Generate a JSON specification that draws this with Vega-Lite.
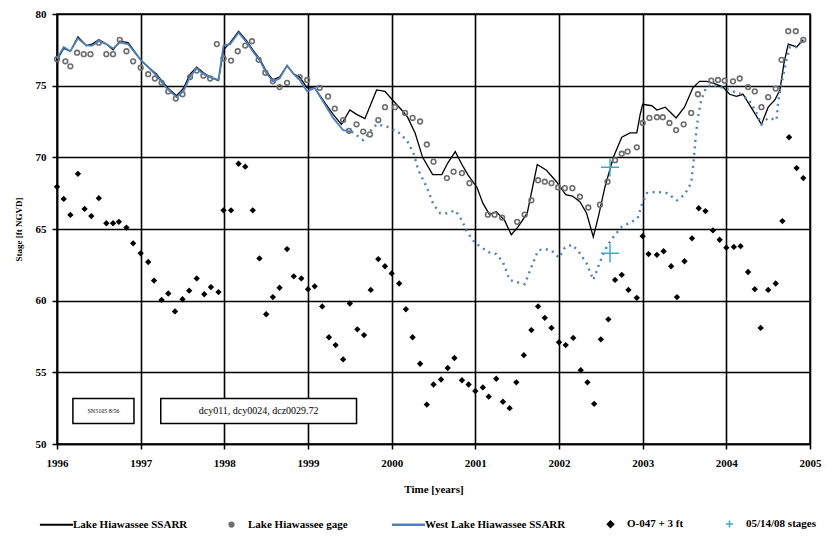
{
  "$schema": "https://vega.github.io/schema/vega-lite/v6.json",
  "width": 753,
  "height": 430,
  "autosize": "none",
  "padding": {"left": 57, "top": 14, "right": 17, "bottom": 98},
  "background": "white",
  "config": {
    "view": {"stroke": "black", "strokeWidth": 1.5},
    "font": "Liberation Serif",
    "legend": {"layout": {"bottom": {"anchor": "middle"}}}
  },
  "datasets": {
    "boxes": [
      {"t": 1996.19, "t2": 1996.92, "v": 53.18, "v2": 51.43, "label": "SN5105 8/56", "tc": 1996.555, "vc": 52.3, "fs": "small"},
      {"t": 1997.24, "t2": 1999.58, "v": 53.18, "v2": 51.43, "label": "dcy011, dcy0024, dcz0029.72", "tc": 1998.41, "vc": 52.3, "fs": "big"}
    ]
  },
  "data": {"values": [
    {"s":"Lake Hiawassee SSARR","t":1996.0,"v":76.8},{"s":"Lake Hiawassee SSARR","t":1996.08,"v":77.6},{"s":"Lake Hiawassee SSARR","t":1996.16,"v":77.4},{"s":"Lake Hiawassee SSARR","t":1996.25,"v":78.4},{"s":"Lake Hiawassee SSARR","t":1996.35,"v":77.8},{"s":"Lake Hiawassee SSARR","t":1996.42,"v":77.9},{"s":"Lake Hiawassee SSARR","t":1996.5,"v":78.2},{"s":"Lake Hiawassee SSARR","t":1996.59,"v":77.9},{"s":"Lake Hiawassee SSARR","t":1996.67,"v":77.5},{"s":"Lake Hiawassee SSARR","t":1996.75,"v":78.1},{"s":"Lake Hiawassee SSARR","t":1996.85,"v":78.0},{"s":"Lake Hiawassee SSARR","t":1997.0,"v":76.8},{"s":"Lake Hiawassee SSARR","t":1997.09,"v":76.3},{"s":"Lake Hiawassee SSARR","t":1997.19,"v":75.8},{"s":"Lake Hiawassee SSARR","t":1997.27,"v":75.2},{"s":"Lake Hiawassee SSARR","t":1997.33,"v":74.8},{"s":"Lake Hiawassee SSARR","t":1997.43,"v":74.3},{"s":"Lake Hiawassee SSARR","t":1997.51,"v":74.8},{"s":"Lake Hiawassee SSARR","t":1997.59,"v":75.8},{"s":"Lake Hiawassee SSARR","t":1997.67,"v":76.3},{"s":"Lake Hiawassee SSARR","t":1997.75,"v":75.9},{"s":"Lake Hiawassee SSARR","t":1997.83,"v":75.6},{"s":"Lake Hiawassee SSARR","t":1997.93,"v":75.35},{"s":"Lake Hiawassee SSARR","t":1997.99,"v":77.5},{"s":"Lake Hiawassee SSARR","t":1998.07,"v":78.0},{"s":"Lake Hiawassee SSARR","t":1998.17,"v":78.8},{"s":"Lake Hiawassee SSARR","t":1998.27,"v":78.1},{"s":"Lake Hiawassee SSARR","t":1998.34,"v":77.5},{"s":"Lake Hiawassee SSARR","t":1998.43,"v":76.8},{"s":"Lake Hiawassee SSARR","t":1998.5,"v":76.0},{"s":"Lake Hiawassee SSARR","t":1998.58,"v":75.4},{"s":"Lake Hiawassee SSARR","t":1998.66,"v":75.6},{"s":"Lake Hiawassee SSARR","t":1998.75,"v":76.4},{"s":"Lake Hiawassee SSARR","t":1998.83,"v":75.8},{"s":"Lake Hiawassee SSARR","t":1998.9,"v":75.6},{"s":"Lake Hiawassee SSARR","t":1998.99,"v":74.85},{"s":"Lake Hiawassee SSARR","t":1999.08,"v":74.85},{"s":"Lake Hiawassee SSARR","t":1999.18,"v":74.0},{"s":"Lake Hiawassee SSARR","t":1999.3,"v":73.0},{"s":"Lake Hiawassee SSARR","t":1999.4,"v":72.3},{"s":"Lake Hiawassee SSARR","t":1999.5,"v":73.3},{"s":"Lake Hiawassee SSARR","t":1999.58,"v":73.0},{"s":"Lake Hiawassee SSARR","t":1999.68,"v":72.7},{"s":"Lake Hiawassee SSARR","t":1999.82,"v":74.7},{"s":"Lake Hiawassee SSARR","t":1999.92,"v":74.6},{"s":"Lake Hiawassee SSARR","t":2000.01,"v":74.0},{"s":"Lake Hiawassee SSARR","t":2000.12,"v":73.3},{"s":"Lake Hiawassee SSARR","t":2000.19,"v":72.8},{"s":"Lake Hiawassee SSARR","t":2000.28,"v":71.7},{"s":"Lake Hiawassee SSARR","t":2000.37,"v":70.0},{"s":"Lake Hiawassee SSARR","t":2000.49,"v":68.8},{"s":"Lake Hiawassee SSARR","t":2000.6,"v":68.8},{"s":"Lake Hiawassee SSARR","t":2000.67,"v":69.6},{"s":"Lake Hiawassee SSARR","t":2000.76,"v":70.4},{"s":"Lake Hiawassee SSARR","t":2000.84,"v":69.5},{"s":"Lake Hiawassee SSARR","t":2000.91,"v":68.8},{"s":"Lake Hiawassee SSARR","t":2001.02,"v":67.9},{"s":"Lake Hiawassee SSARR","t":2001.09,"v":66.8},{"s":"Lake Hiawassee SSARR","t":2001.17,"v":66.0},{"s":"Lake Hiawassee SSARR","t":2001.25,"v":66.2},{"s":"Lake Hiawassee SSARR","t":2001.35,"v":65.6},{"s":"Lake Hiawassee SSARR","t":2001.43,"v":64.6},{"s":"Lake Hiawassee SSARR","t":2001.51,"v":65.15},{"s":"Lake Hiawassee SSARR","t":2001.62,"v":66.1},{"s":"Lake Hiawassee SSARR","t":2001.74,"v":69.5},{"s":"Lake Hiawassee SSARR","t":2001.85,"v":69.1},{"s":"Lake Hiawassee SSARR","t":2001.97,"v":68.3},{"s":"Lake Hiawassee SSARR","t":2002.08,"v":67.4},{"s":"Lake Hiawassee SSARR","t":2002.16,"v":67.3},{"s":"Lake Hiawassee SSARR","t":2002.25,"v":66.9},{"s":"Lake Hiawassee SSARR","t":2002.33,"v":66.1},{"s":"Lake Hiawassee SSARR","t":2002.41,"v":64.45},{"s":"Lake Hiawassee SSARR","t":2002.47,"v":65.85},{"s":"Lake Hiawassee SSARR","t":2002.55,"v":67.95},{"s":"Lake Hiawassee SSARR","t":2002.65,"v":70.0},{"s":"Lake Hiawassee SSARR","t":2002.75,"v":71.4},{"s":"Lake Hiawassee SSARR","t":2002.85,"v":71.7},{"s":"Lake Hiawassee SSARR","t":2002.93,"v":71.7},{"s":"Lake Hiawassee SSARR","t":2002.97,"v":73.0},{"s":"Lake Hiawassee SSARR","t":2003.0,"v":73.7},{"s":"Lake Hiawassee SSARR","t":2003.11,"v":73.6},{"s":"Lake Hiawassee SSARR","t":2003.17,"v":73.3},{"s":"Lake Hiawassee SSARR","t":2003.27,"v":73.5},{"s":"Lake Hiawassee SSARR","t":2003.4,"v":72.75},{"s":"Lake Hiawassee SSARR","t":2003.5,"v":73.5},{"s":"Lake Hiawassee SSARR","t":2003.6,"v":74.85},{"s":"Lake Hiawassee SSARR","t":2003.68,"v":75.3},{"s":"Lake Hiawassee SSARR","t":2003.76,"v":75.3},{"s":"Lake Hiawassee SSARR","t":2003.84,"v":75.2},{"s":"Lake Hiawassee SSARR","t":2003.96,"v":74.9},{"s":"Lake Hiawassee SSARR","t":2004.04,"v":74.4},{"s":"Lake Hiawassee SSARR","t":2004.12,"v":74.25},{"s":"Lake Hiawassee SSARR","t":2004.2,"v":74.4},{"s":"Lake Hiawassee SSARR","t":2004.3,"v":73.45},{"s":"Lake Hiawassee SSARR","t":2004.42,"v":72.3},{"s":"Lake Hiawassee SSARR","t":2004.5,"v":73.5},{"s":"Lake Hiawassee SSARR","t":2004.58,"v":74.0},{"s":"Lake Hiawassee SSARR","t":2004.64,"v":74.7},{"s":"Lake Hiawassee SSARR","t":2004.69,"v":76.6},{"s":"Lake Hiawassee SSARR","t":2004.74,"v":77.9},{"s":"Lake Hiawassee SSARR","t":2004.84,"v":77.7},{"s":"Lake Hiawassee SSARR","t":2004.92,"v":78.2},

    {"s":"West Lake Hiawassee SSARR","t":1996.0,"v":76.9},{"s":"West Lake Hiawassee SSARR","t":1996.08,"v":77.7},{"s":"West Lake Hiawassee SSARR","t":1996.16,"v":77.4},{"s":"West Lake Hiawassee SSARR","t":1996.25,"v":78.3},{"s":"West Lake Hiawassee SSARR","t":1996.35,"v":77.8},{"s":"West Lake Hiawassee SSARR","t":1996.42,"v":77.8},{"s":"West Lake Hiawassee SSARR","t":1996.5,"v":78.1},{"s":"West Lake Hiawassee SSARR","t":1996.59,"v":77.9},{"s":"West Lake Hiawassee SSARR","t":1996.67,"v":77.6},{"s":"West Lake Hiawassee SSARR","t":1996.75,"v":78.0},{"s":"West Lake Hiawassee SSARR","t":1996.85,"v":77.9},{"s":"West Lake Hiawassee SSARR","t":1997.0,"v":76.8},{"s":"West Lake Hiawassee SSARR","t":1997.09,"v":76.3},{"s":"West Lake Hiawassee SSARR","t":1997.19,"v":75.7},{"s":"West Lake Hiawassee SSARR","t":1997.27,"v":75.1},{"s":"West Lake Hiawassee SSARR","t":1997.33,"v":74.7},{"s":"West Lake Hiawassee SSARR","t":1997.43,"v":74.2},{"s":"West Lake Hiawassee SSARR","t":1997.51,"v":74.6},{"s":"West Lake Hiawassee SSARR","t":1997.59,"v":75.6},{"s":"West Lake Hiawassee SSARR","t":1997.67,"v":76.2},{"s":"West Lake Hiawassee SSARR","t":1997.75,"v":75.8},{"s":"West Lake Hiawassee SSARR","t":1997.83,"v":75.6},{"s":"West Lake Hiawassee SSARR","t":1997.93,"v":75.4},{"s":"West Lake Hiawassee SSARR","t":1997.99,"v":77.8},{"s":"West Lake Hiawassee SSARR","t":1998.07,"v":77.9},{"s":"West Lake Hiawassee SSARR","t":1998.17,"v":78.7},{"s":"West Lake Hiawassee SSARR","t":1998.27,"v":78.0},{"s":"West Lake Hiawassee SSARR","t":1998.34,"v":77.4},{"s":"West Lake Hiawassee SSARR","t":1998.43,"v":76.7},{"s":"West Lake Hiawassee SSARR","t":1998.5,"v":75.9},{"s":"West Lake Hiawassee SSARR","t":1998.58,"v":75.3},{"s":"West Lake Hiawassee SSARR","t":1998.66,"v":75.5},{"s":"West Lake Hiawassee SSARR","t":1998.75,"v":76.4},{"s":"West Lake Hiawassee SSARR","t":1998.83,"v":75.8},{"s":"West Lake Hiawassee SSARR","t":1998.9,"v":75.4},{"s":"West Lake Hiawassee SSARR","t":1998.99,"v":74.6},{"s":"West Lake Hiawassee SSARR","t":1999.08,"v":74.85},{"s":"West Lake Hiawassee SSARR","t":1999.18,"v":73.9},{"s":"West Lake Hiawassee SSARR","t":1999.3,"v":72.75},{"s":"West Lake Hiawassee SSARR","t":1999.42,"v":71.9},{"s":"West Lake Hiawassee SSARR","t":1999.52,"v":71.8},{"s":"West Lake Hiawassee SSARR","t":1999.66,"v":71.2},{"s":"West Lake Hiawassee SSARR","t":1999.74,"v":71.8},{"s":"West Lake Hiawassee SSARR","t":1999.82,"v":72.3},{"s":"West Lake Hiawassee SSARR","t":1999.94,"v":72.15},{"s":"West Lake Hiawassee SSARR","t":2000.07,"v":71.8},{"s":"West Lake Hiawassee SSARR","t":2000.18,"v":71.2},{"s":"West Lake Hiawassee SSARR","t":2000.26,"v":70.3},{"s":"West Lake Hiawassee SSARR","t":2000.32,"v":69.1},{"s":"West Lake Hiawassee SSARR","t":2000.42,"v":67.9},{"s":"West Lake Hiawassee SSARR","t":2000.5,"v":66.7},{"s":"West Lake Hiawassee SSARR","t":2000.58,"v":66.1},{"s":"West Lake Hiawassee SSARR","t":2000.66,"v":66.1},{"s":"West Lake Hiawassee SSARR","t":2000.76,"v":66.3},{"s":"West Lake Hiawassee SSARR","t":2000.84,"v":65.6},{"s":"West Lake Hiawassee SSARR","t":2000.9,"v":64.8},{"s":"West Lake Hiawassee SSARR","t":2001.0,"v":64.0},{"s":"West Lake Hiawassee SSARR","t":2001.08,"v":63.7},{"s":"West Lake Hiawassee SSARR","t":2001.15,"v":63.4},{"s":"West Lake Hiawassee SSARR","t":2001.25,"v":63.25},{"s":"West Lake Hiawassee SSARR","t":2001.33,"v":62.7},{"s":"West Lake Hiawassee SSARR","t":2001.41,"v":61.45},{"s":"West Lake Hiawassee SSARR","t":2001.49,"v":61.3},{"s":"West Lake Hiawassee SSARR","t":2001.59,"v":61.15},{"s":"West Lake Hiawassee SSARR","t":2001.66,"v":62.2},{"s":"West Lake Hiawassee SSARR","t":2001.75,"v":63.5},{"s":"West Lake Hiawassee SSARR","t":2001.83,"v":63.6},{"s":"West Lake Hiawassee SSARR","t":2001.91,"v":63.5},{"s":"West Lake Hiawassee SSARR","t":2002.0,"v":63.0},{"s":"West Lake Hiawassee SSARR","t":2002.07,"v":63.7},{"s":"West Lake Hiawassee SSARR","t":2002.16,"v":63.9},{"s":"West Lake Hiawassee SSARR","t":2002.25,"v":63.3},{"s":"West Lake Hiawassee SSARR","t":2002.33,"v":62.6},{"s":"West Lake Hiawassee SSARR","t":2002.41,"v":61.45},{"s":"West Lake Hiawassee SSARR","t":2002.51,"v":63.0},{"s":"West Lake Hiawassee SSARR","t":2002.57,"v":63.75},{"s":"West Lake Hiawassee SSARR","t":2002.63,"v":64.3},{"s":"West Lake Hiawassee SSARR","t":2002.75,"v":65.15},{"s":"West Lake Hiawassee SSARR","t":2002.87,"v":65.5},{"s":"West Lake Hiawassee SSARR","t":2002.94,"v":65.75},{"s":"West Lake Hiawassee SSARR","t":2002.99,"v":66.7},{"s":"West Lake Hiawassee SSARR","t":2003.05,"v":67.5},{"s":"West Lake Hiawassee SSARR","t":2003.17,"v":67.6},{"s":"West Lake Hiawassee SSARR","t":2003.29,"v":67.5},{"s":"West Lake Hiawassee SSARR","t":2003.41,"v":67.0},{"s":"West Lake Hiawassee SSARR","t":2003.5,"v":67.4},{"s":"West Lake Hiawassee SSARR","t":2003.58,"v":68.2},{"s":"West Lake Hiawassee SSARR","t":2003.61,"v":69.8},{"s":"West Lake Hiawassee SSARR","t":2003.63,"v":71.2},{"s":"West Lake Hiawassee SSARR","t":2003.66,"v":72.75},{"s":"West Lake Hiawassee SSARR","t":2003.7,"v":74.0},{"s":"West Lake Hiawassee SSARR","t":2003.76,"v":74.9},{"s":"West Lake Hiawassee SSARR","t":2003.82,"v":75.07},{"s":"West Lake Hiawassee SSARR","t":2003.96,"v":74.85},{"s":"West Lake Hiawassee SSARR","t":2004.08,"v":74.6},{"s":"West Lake Hiawassee SSARR","t":2004.18,"v":74.4},{"s":"West Lake Hiawassee SSARR","t":2004.28,"v":73.9},{"s":"West Lake Hiawassee SSARR","t":2004.36,"v":73.1},{"s":"West Lake Hiawassee SSARR","t":2004.42,"v":72.3},{"s":"West Lake Hiawassee SSARR","t":2004.5,"v":72.75},{"s":"West Lake Hiawassee SSARR","t":2004.6,"v":72.6},{"s":"West Lake Hiawassee SSARR","t":2004.62,"v":73.9},{"s":"West Lake Hiawassee SSARR","t":2004.66,"v":75.2},{"s":"West Lake Hiawassee SSARR","t":2004.72,"v":76.8},{"s":"West Lake Hiawassee SSARR","t":2004.76,"v":77.7},{"s":"West Lake Hiawassee SSARR","t":2004.84,"v":77.7},{"s":"West Lake Hiawassee SSARR","t":2004.92,"v":78.2},

    {"s":"Lake Hiawassee gage","t":1996.0,"v":76.85},{"s":"Lake Hiawassee gage","t":1996.1,"v":76.7},{"s":"Lake Hiawassee gage","t":1996.16,"v":76.35},{"s":"Lake Hiawassee gage","t":1996.24,"v":77.3},{"s":"Lake Hiawassee gage","t":1996.32,"v":77.2},{"s":"Lake Hiawassee gage","t":1996.4,"v":77.2},{"s":"Lake Hiawassee gage","t":1996.5,"v":78.0},{"s":"Lake Hiawassee gage","t":1996.59,"v":77.2},{"s":"Lake Hiawassee gage","t":1996.67,"v":77.2},{"s":"Lake Hiawassee gage","t":1996.75,"v":78.2},{"s":"Lake Hiawassee gage","t":1996.83,"v":77.4},{"s":"Lake Hiawassee gage","t":1996.91,"v":76.7},{"s":"Lake Hiawassee gage","t":1997.0,"v":76.25},{"s":"Lake Hiawassee gage","t":1997.09,"v":75.8},{"s":"Lake Hiawassee gage","t":1997.17,"v":75.5},{"s":"Lake Hiawassee gage","t":1997.25,"v":75.2},{"s":"Lake Hiawassee gage","t":1997.33,"v":74.6},{"s":"Lake Hiawassee gage","t":1997.42,"v":74.1},{"s":"Lake Hiawassee gage","t":1997.5,"v":74.4},{"s":"Lake Hiawassee gage","t":1997.59,"v":75.6},{"s":"Lake Hiawassee gage","t":1997.67,"v":76.05},{"s":"Lake Hiawassee gage","t":1997.75,"v":75.7},{"s":"Lake Hiawassee gage","t":1997.83,"v":75.5},{"s":"Lake Hiawassee gage","t":1997.91,"v":77.9},{"s":"Lake Hiawassee gage","t":1997.99,"v":76.9},{"s":"Lake Hiawassee gage","t":1998.08,"v":76.75},{"s":"Lake Hiawassee gage","t":1998.16,"v":77.4},{"s":"Lake Hiawassee gage","t":1998.25,"v":77.8},{"s":"Lake Hiawassee gage","t":1998.33,"v":78.1},{"s":"Lake Hiawassee gage","t":1998.41,"v":76.8},{"s":"Lake Hiawassee gage","t":1998.49,"v":75.9},{"s":"Lake Hiawassee gage","t":1998.58,"v":75.3},{"s":"Lake Hiawassee gage","t":1998.66,"v":74.9},{"s":"Lake Hiawassee gage","t":1998.75,"v":75.2},{"s":"Lake Hiawassee gage","t":1998.9,"v":75.6},{"s":"Lake Hiawassee gage","t":1998.99,"v":75.4},{"s":"Lake Hiawassee gage","t":1999.14,"v":74.85},{"s":"Lake Hiawassee gage","t":1999.24,"v":74.25},{"s":"Lake Hiawassee gage","t":1999.32,"v":73.4},{"s":"Lake Hiawassee gage","t":1999.42,"v":72.6},{"s":"Lake Hiawassee gage","t":1999.49,"v":71.85},{"s":"Lake Hiawassee gage","t":1999.58,"v":72.3},{"s":"Lake Hiawassee gage","t":1999.66,"v":71.8},{"s":"Lake Hiawassee gage","t":1999.74,"v":71.6},{"s":"Lake Hiawassee gage","t":1999.84,"v":72.6},{"s":"Lake Hiawassee gage","t":1999.92,"v":73.5},{"s":"Lake Hiawassee gage","t":2000.04,"v":73.5},{"s":"Lake Hiawassee gage","t":2000.16,"v":73.1},{"s":"Lake Hiawassee gage","t":2000.25,"v":72.75},{"s":"Lake Hiawassee gage","t":2000.34,"v":72.5},{"s":"Lake Hiawassee gage","t":2000.42,"v":70.9},{"s":"Lake Hiawassee gage","t":2000.5,"v":69.7},{"s":"Lake Hiawassee gage","t":2000.66,"v":68.55},{"s":"Lake Hiawassee gage","t":2000.74,"v":69.0},{"s":"Lake Hiawassee gage","t":2000.84,"v":68.9},{"s":"Lake Hiawassee gage","t":2000.93,"v":68.2},{"s":"Lake Hiawassee gage","t":2001.15,"v":66.0},{"s":"Lake Hiawassee gage","t":2001.23,"v":66.0},{"s":"Lake Hiawassee gage","t":2001.32,"v":65.8},{"s":"Lake Hiawassee gage","t":2001.5,"v":65.5},{"s":"Lake Hiawassee gage","t":2001.59,"v":66.0},{"s":"Lake Hiawassee gage","t":2001.67,"v":67.0},{"s":"Lake Hiawassee gage","t":2001.75,"v":68.4},{"s":"Lake Hiawassee gage","t":2001.83,"v":68.3},{"s":"Lake Hiawassee gage","t":2001.91,"v":68.2},{"s":"Lake Hiawassee gage","t":2001.99,"v":67.9},{"s":"Lake Hiawassee gage","t":2002.07,"v":67.85},{"s":"Lake Hiawassee gage","t":2002.16,"v":67.85},{"s":"Lake Hiawassee gage","t":2002.25,"v":67.25},{"s":"Lake Hiawassee gage","t":2002.35,"v":66.5},{"s":"Lake Hiawassee gage","t":2002.49,"v":66.7},{"s":"Lake Hiawassee gage","t":2002.58,"v":68.3},{"s":"Lake Hiawassee gage","t":2002.67,"v":69.8},{"s":"Lake Hiawassee gage","t":2002.75,"v":70.25},{"s":"Lake Hiawassee gage","t":2002.82,"v":70.4},{"s":"Lake Hiawassee gage","t":2002.93,"v":70.7},{"s":"Lake Hiawassee gage","t":2003.0,"v":72.4},{"s":"Lake Hiawassee gage","t":2003.08,"v":72.75},{"s":"Lake Hiawassee gage","t":2003.17,"v":72.8},{"s":"Lake Hiawassee gage","t":2003.24,"v":72.8},{"s":"Lake Hiawassee gage","t":2003.32,"v":72.4},{"s":"Lake Hiawassee gage","t":2003.4,"v":71.9},{"s":"Lake Hiawassee gage","t":2003.49,"v":72.3},{"s":"Lake Hiawassee gage","t":2003.58,"v":73.1},{"s":"Lake Hiawassee gage","t":2003.66,"v":74.4},{"s":"Lake Hiawassee gage","t":2003.82,"v":75.35},{"s":"Lake Hiawassee gage","t":2003.9,"v":75.4},{"s":"Lake Hiawassee gage","t":2003.98,"v":75.35},{"s":"Lake Hiawassee gage","t":2004.08,"v":75.3},{"s":"Lake Hiawassee gage","t":2004.16,"v":75.5},{"s":"Lake Hiawassee gage","t":2004.26,"v":74.9},{"s":"Lake Hiawassee gage","t":2004.34,"v":74.6},{"s":"Lake Hiawassee gage","t":2004.42,"v":73.5},{"s":"Lake Hiawassee gage","t":2004.5,"v":74.2},{"s":"Lake Hiawassee gage","t":2004.59,"v":74.8},{"s":"Lake Hiawassee gage","t":2004.66,"v":76.8},{"s":"Lake Hiawassee gage","t":2004.74,"v":78.8},{"s":"Lake Hiawassee gage","t":2004.83,"v":78.8},{"s":"Lake Hiawassee gage","t":2004.92,"v":78.2},

    {"s":"O-047 + 3 ft","t":1996.0,"v":67.95},{"s":"O-047 + 3 ft","t":1996.08,"v":67.1},{"s":"O-047 + 3 ft","t":1996.16,"v":65.98},{"s":"O-047 + 3 ft","t":1996.25,"v":68.85},{"s":"O-047 + 3 ft","t":1996.33,"v":66.4},{"s":"O-047 + 3 ft","t":1996.41,"v":65.9},{"s":"O-047 + 3 ft","t":1996.5,"v":67.15},{"s":"O-047 + 3 ft","t":1996.59,"v":65.4},{"s":"O-047 + 3 ft","t":1996.67,"v":65.4},{"s":"O-047 + 3 ft","t":1996.74,"v":65.5},{"s":"O-047 + 3 ft","t":1996.83,"v":65.1},{"s":"O-047 + 3 ft","t":1996.91,"v":64.0},{"s":"O-047 + 3 ft","t":1997.0,"v":63.3},{"s":"O-047 + 3 ft","t":1997.09,"v":62.7},{"s":"O-047 + 3 ft","t":1997.16,"v":61.4},{"s":"O-047 + 3 ft","t":1997.25,"v":60.05},{"s":"O-047 + 3 ft","t":1997.33,"v":60.5},{"s":"O-047 + 3 ft","t":1997.41,"v":59.25},{"s":"O-047 + 3 ft","t":1997.5,"v":60.1},{"s":"O-047 + 3 ft","t":1997.58,"v":60.7},{"s":"O-047 + 3 ft","t":1997.67,"v":61.55},{"s":"O-047 + 3 ft","t":1997.76,"v":60.45},{"s":"O-047 + 3 ft","t":1997.84,"v":60.95},{"s":"O-047 + 3 ft","t":1997.93,"v":60.6},{"s":"O-047 + 3 ft","t":1997.99,"v":66.3},{"s":"O-047 + 3 ft","t":1998.08,"v":66.3},{"s":"O-047 + 3 ft","t":1998.17,"v":69.55},{"s":"O-047 + 3 ft","t":1998.25,"v":69.35},{"s":"O-047 + 3 ft","t":1998.34,"v":66.3},{"s":"O-047 + 3 ft","t":1998.42,"v":62.95},{"s":"O-047 + 3 ft","t":1998.5,"v":59.05},{"s":"O-047 + 3 ft","t":1998.58,"v":60.25},{"s":"O-047 + 3 ft","t":1998.66,"v":60.9},{"s":"O-047 + 3 ft","t":1998.75,"v":63.6},{"s":"O-047 + 3 ft","t":1998.83,"v":61.7},{"s":"O-047 + 3 ft","t":1998.92,"v":61.55},{"s":"O-047 + 3 ft","t":1999.0,"v":60.8},{"s":"O-047 + 3 ft","t":1999.08,"v":61.0},{"s":"O-047 + 3 ft","t":1999.17,"v":59.6},{"s":"O-047 + 3 ft","t":1999.25,"v":57.45},{"s":"O-047 + 3 ft","t":1999.33,"v":56.9},{"s":"O-047 + 3 ft","t":1999.42,"v":55.9},{"s":"O-047 + 3 ft","t":1999.5,"v":59.8},{"s":"O-047 + 3 ft","t":1999.59,"v":58.0},{"s":"O-047 + 3 ft","t":1999.67,"v":57.6},{"s":"O-047 + 3 ft","t":1999.75,"v":60.75},{"s":"O-047 + 3 ft","t":1999.84,"v":62.9},{"s":"O-047 + 3 ft","t":1999.92,"v":62.4},{"s":"O-047 + 3 ft","t":2000.0,"v":61.9},{"s":"O-047 + 3 ft","t":2000.09,"v":61.2},{"s":"O-047 + 3 ft","t":2000.17,"v":59.4},{"s":"O-047 + 3 ft","t":2000.25,"v":57.45},{"s":"O-047 + 3 ft","t":2000.34,"v":55.6},{"s":"O-047 + 3 ft","t":2000.42,"v":52.75},{"s":"O-047 + 3 ft","t":2000.5,"v":54.15},{"s":"O-047 + 3 ft","t":2000.59,"v":54.5},{"s":"O-047 + 3 ft","t":2000.67,"v":55.3},{"s":"O-047 + 3 ft","t":2000.75,"v":56.0},{"s":"O-047 + 3 ft","t":2000.84,"v":54.45},{"s":"O-047 + 3 ft","t":2000.92,"v":54.15},{"s":"O-047 + 3 ft","t":2001.0,"v":53.7},{"s":"O-047 + 3 ft","t":2001.09,"v":53.95},{"s":"O-047 + 3 ft","t":2001.16,"v":53.3},{"s":"O-047 + 3 ft","t":2001.25,"v":54.55},{"s":"O-047 + 3 ft","t":2001.33,"v":52.95},{"s":"O-047 + 3 ft","t":2001.41,"v":52.5},{"s":"O-047 + 3 ft","t":2001.49,"v":54.3},{"s":"O-047 + 3 ft","t":2001.58,"v":56.2},{"s":"O-047 + 3 ft","t":2001.67,"v":57.95},{"s":"O-047 + 3 ft","t":2001.75,"v":59.6},{"s":"O-047 + 3 ft","t":2001.83,"v":58.8},{"s":"O-047 + 3 ft","t":2001.91,"v":58.1},{"s":"O-047 + 3 ft","t":2002.0,"v":57.1},{"s":"O-047 + 3 ft","t":2002.08,"v":56.9},{"s":"O-047 + 3 ft","t":2002.17,"v":57.4},{"s":"O-047 + 3 ft","t":2002.26,"v":55.15},{"s":"O-047 + 3 ft","t":2002.34,"v":54.3},{"s":"O-047 + 3 ft","t":2002.42,"v":52.8},{"s":"O-047 + 3 ft","t":2002.5,"v":57.3},{"s":"O-047 + 3 ft","t":2002.59,"v":58.7},{"s":"O-047 + 3 ft","t":2002.67,"v":61.45},{"s":"O-047 + 3 ft","t":2002.75,"v":61.8},{"s":"O-047 + 3 ft","t":2002.83,"v":60.75},{"s":"O-047 + 3 ft","t":2002.93,"v":60.2},{"s":"O-047 + 3 ft","t":2003.0,"v":64.5},{"s":"O-047 + 3 ft","t":2003.07,"v":63.25},{"s":"O-047 + 3 ft","t":2003.17,"v":63.2},{"s":"O-047 + 3 ft","t":2003.25,"v":63.45},{"s":"O-047 + 3 ft","t":2003.34,"v":62.4},{"s":"O-047 + 3 ft","t":2003.41,"v":60.25},{"s":"O-047 + 3 ft","t":2003.5,"v":62.75},{"s":"O-047 + 3 ft","t":2003.59,"v":64.35},{"s":"O-047 + 3 ft","t":2003.67,"v":66.45},{"s":"O-047 + 3 ft","t":2003.75,"v":66.25},{"s":"O-047 + 3 ft","t":2003.84,"v":64.9},{"s":"O-047 + 3 ft","t":2003.92,"v":64.25},{"s":"O-047 + 3 ft","t":2004.0,"v":63.7},{"s":"O-047 + 3 ft","t":2004.09,"v":63.75},{"s":"O-047 + 3 ft","t":2004.17,"v":63.8},{"s":"O-047 + 3 ft","t":2004.26,"v":62.0},{"s":"O-047 + 3 ft","t":2004.34,"v":60.8},{"s":"O-047 + 3 ft","t":2004.41,"v":58.1},{"s":"O-047 + 3 ft","t":2004.5,"v":60.75},{"s":"O-047 + 3 ft","t":2004.59,"v":61.2},{"s":"O-047 + 3 ft","t":2004.67,"v":65.55},{"s":"O-047 + 3 ft","t":2004.75,"v":71.4},{"s":"O-047 + 3 ft","t":2004.84,"v":69.25},{"s":"O-047 + 3 ft","t":2004.92,"v":68.55},

    {"s":"05/14/08 stages","t":2002.61,"v":69.3},{"s":"05/14/08 stages","t":2002.61,"v":63.3}
  ]},
  "encoding": {
    "x": {
      "field": "t", "type": "quantitative",
      "scale": {"domain": [1996, 2005], "nice": false, "zero": false},
      "axis": {
        "title": "Time [years]", "values": [1996,1997,1998,1999,2000,2001,2002,2003,2004,2005], "format": "d", "labelFlush": false,
        "labelFont": "Liberation Serif", "labelFontSize": 11, "labelFontWeight": "bold", "labelColor": "black",
        "labelPadding": 8, "tickColor": "black", "tickSize": 5, "tickWidth": 1.5,
        "domainColor": "black", "domainWidth": 1.5,
        "grid": true, "gridColor": "black", "gridWidth": 1.6, "gridOpacity": 1,
        "titleFont": "Liberation Serif", "titleFontSize": 11, "titleFontWeight": "bold", "titleColor": "black", "titlePadding": 15
      }
    },
    "y": {
      "field": "v", "type": "quantitative",
      "scale": {"domain": [50, 80], "nice": false, "zero": false},
      "axis": {
        "title": "Stage [ft NGVD]", "values": [50,55,60,65,70,75,80], "format": "d", "labelFlush": false,
        "labelFont": "Liberation Serif", "labelFontSize": 11, "labelFontWeight": "bold", "labelColor": "black",
        "labelPadding": 6, "tickColor": "black", "tickSize": 5, "tickWidth": 1.5,
        "domainColor": "black", "domainWidth": 1.5,
        "grid": true, "gridColor": "black", "gridWidth": 1.6, "gridOpacity": 1,
        "titleFont": "Liberation Serif", "titleFontSize": 9, "titleFontWeight": "bold", "titleColor": "black", "titlePadding": 12
      }
    },
    "color": {
      "field": "s", "type": "nominal",
      "scale": {
        "domain": ["Lake Hiawassee SSARR", "Lake Hiawassee gage", "West Lake Hiawassee SSARR", "O-047 + 3 ft", "05/14/08 stages"],
        "range": ["#000000", "#6e6e6e", "#4f81bd", "#000000", "#3fa9c9"]
      },
      "legend": {
        "title": null, "orient": "bottom", "direction": "horizontal", "offset": 24,
        "labelFont": "Liberation Serif", "labelFontSize": 11, "labelFontWeight": "bold", "labelColor": "black",
        "labelOffset": 11, "columnPadding": 38, "labelLimit": 400,
        "encode": {
          "symbols": {
            "update": {
              "shape": {"signal": "datum.value === 'Lake Hiawassee SSARR' || datum.value === 'West Lake Hiawassee SSARR' ? 'stroke' : datum.value === '05/14/08 stages' ? 'M-1,0L1,0M0,-1L0,1' : datum.value === 'O-047 + 3 ft' ? 'diamond' : 'circle'"},
              "size": {"signal": "datum.value === 'Lake Hiawassee SSARR' || datum.value === 'West Lake Hiawassee SSARR' ? 1100 : datum.value === '05/14/08 stages' ? 50 : datum.value === 'O-047 + 3 ft' ? 40 : 22"},
              "fill": {"signal": "datum.value === 'O-047 + 3 ft' ? 'black' : 'transparent'"},
              "stroke": {"signal": "datum.value === 'Lake Hiawassee SSARR' ? 'black' : datum.value === 'Lake Hiawassee gage' ? '#6e6e6e' : datum.value === 'West Lake Hiawassee SSARR' ? '#4f81bd' : datum.value === 'O-047 + 3 ft' ? 'black' : '#3fa9c9'"},
              "strokeWidth": {"signal": "datum.value === 'Lake Hiawassee SSARR' ? 2 : datum.value === 'West Lake Hiawassee SSARR' ? 2.5 : 1.5"},
              "opacity": {"value": 1}
            }
          }
        }
      }
    }
  },
  "layer": [
    {
      "data": {"name": "boxes"},
      "mark": {"type": "rect", "fill": "white", "stroke": "black", "strokeWidth": 1.5},
      "encoding": {"x2": {"field": "t2"}, "y2": {"field": "v2"}, "color": {"value": "white"}}
    },
    {
      "data": {"name": "boxes"},
      "transform": [{"filter": "datum.fs === 'small'"}],
      "mark": {"type": "text", "font": "Liberation Serif", "fill": "black", "fontSize": 6},
      "encoding": {
        "x": {"field": "tc", "type": "quantitative"},
        "y": {"field": "vc", "type": "quantitative"},
        "text": {"field": "label"},
        "color": {"value": "black"}
      }
    },
    {
      "data": {"name": "boxes"},
      "transform": [{"filter": "datum.fs === 'big'"}],
      "mark": {"type": "text", "font": "Liberation Serif", "fill": "black", "fontSize": 10},
      "encoding": {
        "x": {"field": "tc", "type": "quantitative"},
        "y": {"field": "vc", "type": "quantitative"},
        "text": {"field": "label"},
        "color": {"value": "black"}
      }
    },
    {
      "transform": [{"filter": "datum.s === 'Lake Hiawassee SSARR'"}],
      "mark": {"type": "line", "strokeWidth": 1.3}
    },
    {
      "transform": [{"filter": "datum.s === 'Lake Hiawassee gage'"}],
      "mark": {"type": "point", "shape": "circle", "filled": false, "size": 22, "strokeWidth": 1.6, "opacity": 1}
    },
    {
      "transform": [{"filter": "datum.s === 'West Lake Hiawassee SSARR' && datum.t <= 1999.52"}],
      "mark": {"type": "line", "strokeWidth": 1.8}
    },
    {
      "transform": [{"filter": "datum.s === 'West Lake Hiawassee SSARR' && datum.t >= 1999.52"}],
      "mark": {"type": "line", "strokeWidth": 2.4, "strokeDash": [2, 4.5]}
    },
    {
      "transform": [{"filter": "datum.s === 'O-047 + 3 ft'"}],
      "mark": {"type": "point", "shape": "diamond", "filled": true, "size": 40, "opacity": 1}
    },
    {
      "transform": [{"filter": "datum.s === '05/14/08 stages'"}],
      "mark": {"type": "point", "shape": "M-1,0L1,0M0,-1L0,1", "filled": false, "size": 330, "strokeWidth": 1.5, "opacity": 1}
    }
  ]
}
